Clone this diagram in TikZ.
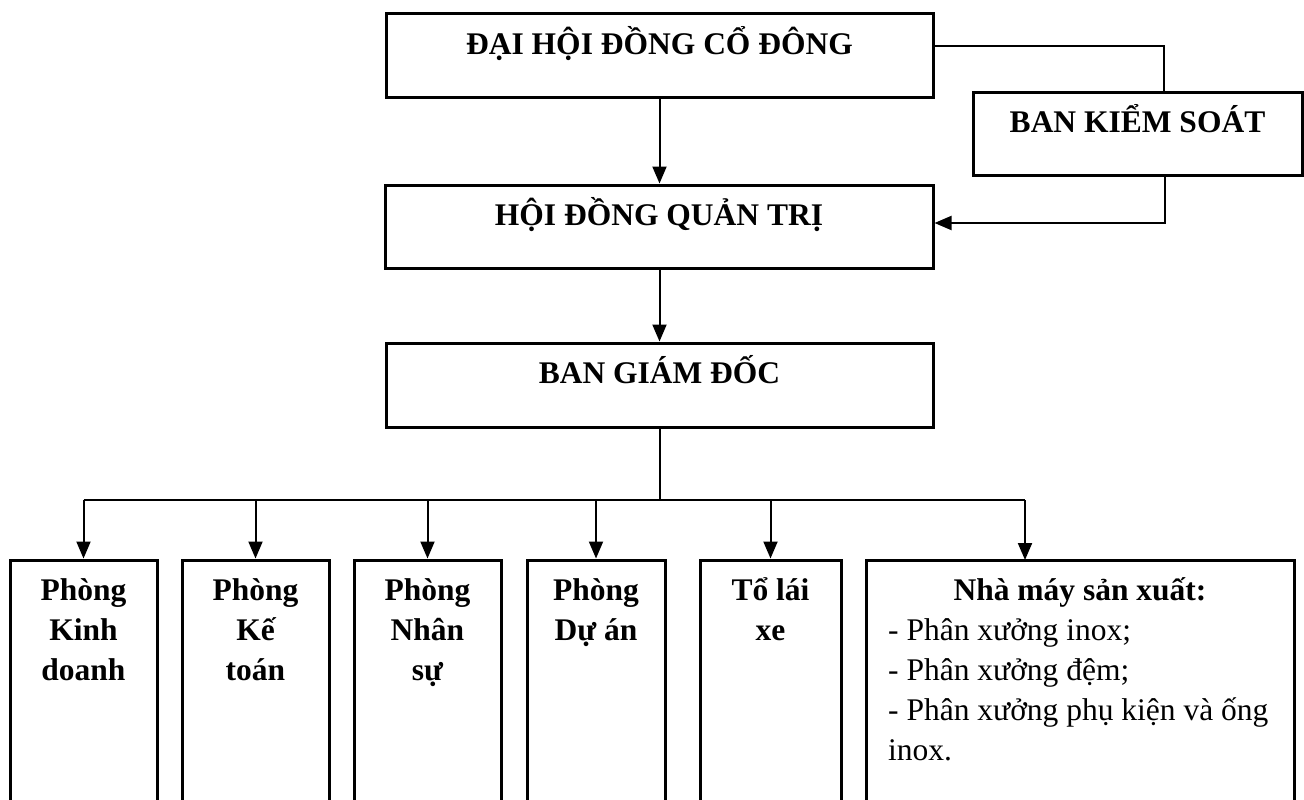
\documentclass[tikz,border=0pt]{standalone}
\usepackage{fontspec}
\setmainfont{Liberation Serif}
\usetikzlibrary{arrows.meta,calc}
\begin{document}
\begin{tikzpicture}[x=1pt,y=-1pt,
  box/.style={draw=black, line width=3pt, inner sep=0pt, fill=none},
  conn/.style={draw=black, line width=2pt},
  arr/.style={conn, -{Triangle[width=14pt,length=17pt]}},
  ttl/.style={font=\bfseries\fontsize{31.5}{40}\selectfont, inner sep=0pt, anchor=base, align=center},
  body/.style={font=\fontsize{31.5}{40}\selectfont, inner sep=0pt, anchor=base west, align=left},
]
\clip (0,0) rectangle (1304,800);
\fill[white] (0,0) rectangle (1304,800);

% top boxes
\node[box, minimum width=547pt, minimum height=83pt] (dh) at (659.5,55.5) {};
\node[box, minimum width=329pt, minimum height=83pt] (bks) at (1137.5,133.5) {};
\node[box, minimum width=548pt, minimum height=83pt] (hd) at (659,226.5) {};
\node[box, minimum width=547pt, minimum height=84pt] (bgd) at (659.5,385) {};

\node[ttl] (dht) at (659.5,55) {ĐẠI HỘI ĐỒNG CỔ ĐÔNG};
\node[ttl] (bkst) at (1137.5,132) {BAN KIỂM SOÁT};
\node[ttl] (hdt) at (659,225) {HỘI ĐỒNG QUẢN TRỊ};
\node[ttl] (bgdt) at (659.5,383) {BAN GIÁM ĐỐC};

% bottom boxes
\node[box, minimum width=147pt, minimum height=255pt] (b1) at (83.5,687.5) {};
\node[box, minimum width=147pt, minimum height=255pt] (b2) at (255.5,687.5) {};
\node[box, minimum width=147pt, minimum height=255pt] (b3) at (427.5,687.5) {};
\node[box, minimum width=138pt, minimum height=255pt] (b4) at (596,687.5) {};
\node[box, minimum width=141pt, minimum height=255pt] (b5) at (770.5,687.5) {};
\node[box, minimum width=428pt, minimum height=255pt] (b6) at (1080,687.5) {};

% multi-line nodes: base anchor sits on the last line
\node[ttl] (b1t) at (83.5,680) {Phòng\\Kinh\\doanh};
\node[ttl] (b2t) at (255.5,680) {Phòng\\Kế\\toán};
\node[ttl] (b3t) at (427.5,680) {Phòng\\Nhân\\sự};
\node[ttl] (b4t) at (596,640) {Phòng\\Dự án};
\node[ttl] (b5t) at (770.5,640) {Tổ lái\\xe};
\node[ttl] (b6t) at (1080,600) {Nhà máy sản xuất:};
\node[body] (b6l) at (888,760) {- Phân xưởng inox;\\- Phân xưởng đệm;\\- Phân xưởng phụ kiện và ống\\inox.};

% connectors
\coordinate (k1) at (1164,46);
\coordinate (k2) at (1165,223);
\coordinate (bus) at (661,500);
\coordinate (b6in) at (1025,560);

\draw[arr] (dh.south) -- (dh.south |- hd.north);
\draw[arr] (bgd.north |- hd.south) -- (bgd.north);
\draw[conn] (dh.east |- k1) -- (k1) -- (k1 |- bks.north);
\draw[arr] (k2 |- bks.south) -- (k2) -- (k2 -| hd.east);

\draw[conn] (bgd.south) -- (bgd.south |- bus);
\draw[conn] (b1.north |- bus) -- (b6in |- bus);
\draw[arr] (b1.north |- bus) -- (b1.north);
\draw[arr] (b2.north |- bus) -- (b2.north);
\draw[arr] (b3.north |- bus) -- (b3.north);
\draw[arr] (b4.north |- bus) -- (b4.north);
\draw[arr] (b5.north |- bus) -- (b5.north);
\draw[arr] (b6in |- bus) -- (b6in);
\end{tikzpicture}
\end{document}
